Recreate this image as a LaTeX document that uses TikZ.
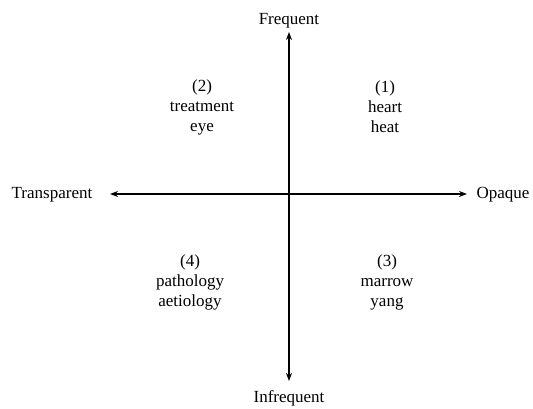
\documentclass[tikz,border=0pt]{standalone}
\usepackage{fontspec}
\setmainfont{Liberation Serif}
\usetikzlibrary{arrows.meta}
\begin{document}
\begin{tikzpicture}[x=1pt,y=-1pt,
  axis/.style={line width=1.6pt,-{Stealth[length=8pt,width=6pt]}},
  lbl/.style={font=\fontsize{17}{20}\selectfont,inner sep=0pt},
  quad/.style={font=\fontsize{17}{20}\selectfont,align=center,inner sep=0pt}]
\useasboundingbox (0,0) rectangle (533,408);
\coordinate (o) at (289,194);
\coordinate (top) at (289,32);
\coordinate (bot) at (289,381);
\coordinate (lft) at (110,194);
\coordinate (rgt) at (467,194);
\draw[axis] (o) -- (top);
\draw[axis] (o) -- (bot);
\draw[axis] (o) -- (lft);
\draw[axis] (o) -- (rgt);
\node[lbl] (freq) at (289,21) {Frequent};
\node[lbl] (infreq) at (289,398) {Infrequent};
\node[lbl] (trans) at (52,195) {Transparent};
\node[lbl] (opaq) at (503,195) {Opaque};
\node[quad] (q2) at (202,107) {(2)\\treatment\\eye};
\node[quad] (q1) at (385,107) {(1)\\heart\\heat};
\node[quad] (q4) at (190,282) {(4)\\pathology\\aetiology};
\node[quad] (q3) at (387,282) {(3)\\marrow\\yang};
\end{tikzpicture}
\end{document}
